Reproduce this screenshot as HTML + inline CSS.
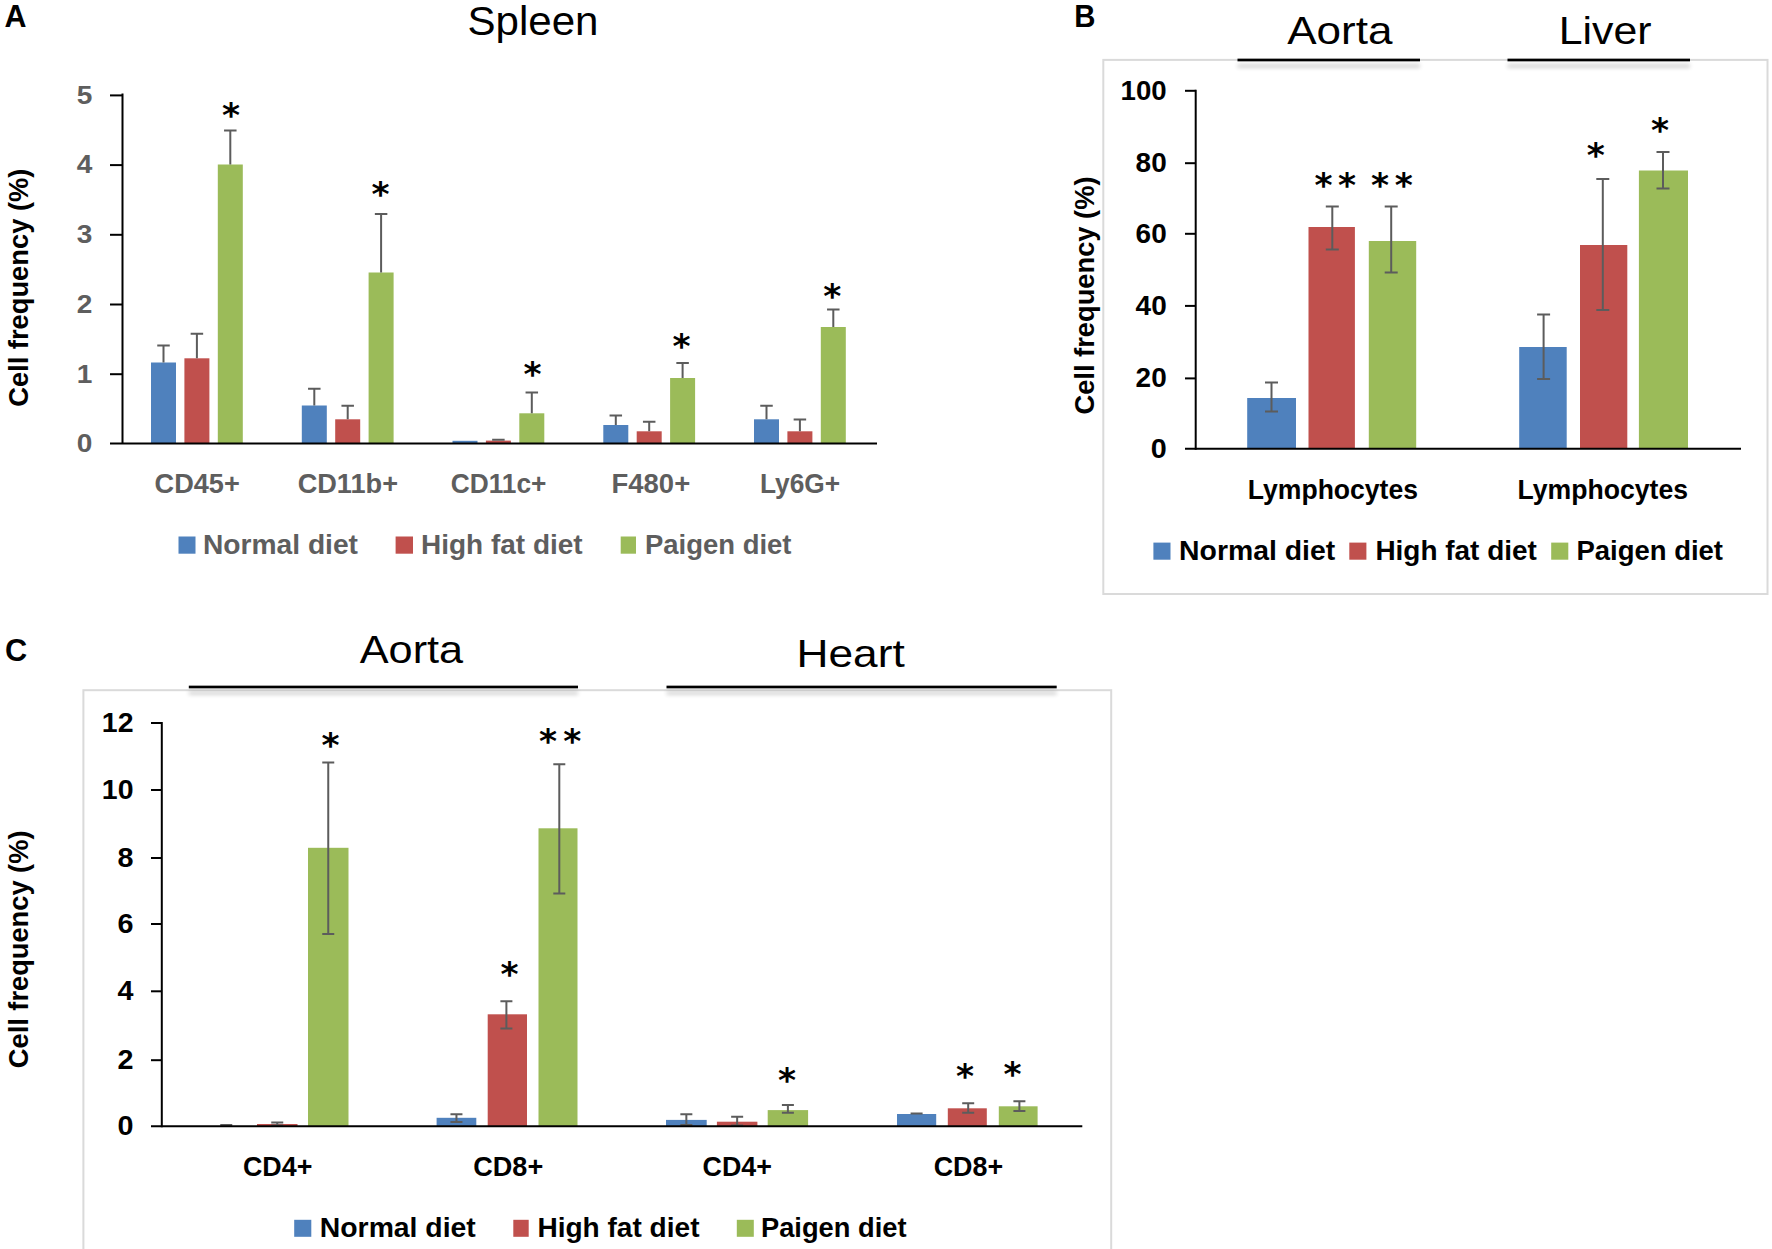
<!DOCTYPE html>
<html lang="en"><head><meta charset="utf-8"><title>Figure</title>
<style>
html,body{margin:0;padding:0;background:#fff}
svg{display:block}
text{font-family:"Liberation Sans",sans-serif}
text.b,text.h{font-weight:700}
text.st{font-family:"DejaVu Sans","Liberation Sans",sans-serif}
</style></head><body>
<svg width="1772" height="1249" viewBox="0 0 1772 1249">
<defs><filter id="sh" x="-5%" y="-400%" width="110%" height="1200%"><feGaussianBlur in="SourceAlpha" stdDeviation="2.3" result="b"/><feOffset in="b" dy="6.2" result="o"/><feComponentTransfer in="o" result="s"><feFuncA type="linear" slope="0.24"/></feComponentTransfer><feMerge><feMergeNode in="s"/><feMergeNode in="SourceGraphic"/></feMerge></filter></defs>
<rect width="1772" height="1249" fill="#fff"/>
<g id="panelA">
<text x="15.4" y="26.7" font-size="31.3" text-anchor="middle" textLength="22" lengthAdjust="spacingAndGlyphs" fill="#000" class="b">A</text>
<text x="533" y="35" font-size="41" text-anchor="middle" textLength="131" lengthAdjust="spacingAndGlyphs" fill="#000">Spleen</text>
<text transform="translate(27.7 287.7) rotate(-90)" x="0" y="0" font-size="27.3" text-anchor="middle" textLength="238.2" lengthAdjust="spacingAndGlyphs" fill="#000" class="b">Cell frequency (%)</text>
<rect x="151" y="362.5" width="25" height="80.5" fill="#4f81bd"/>
<path d="M157.25 345.5H169.75M163.5 345.5V362.5" stroke="#5c5c5c" stroke-width="2" fill="none"/>
<rect x="184.4" y="358.3" width="25" height="84.7" fill="#c0504d"/>
<path d="M190.65 333.7H203.15M196.9 333.7V358.3" stroke="#5c5c5c" stroke-width="2" fill="none"/>
<rect x="217.8" y="164.5" width="25" height="278.5" fill="#9bbb59"/>
<path d="M224.05 130.5H236.55M230.3 130.5V164.5" stroke="#5c5c5c" stroke-width="2" fill="none"/>
<rect x="301.8" y="405.5" width="25" height="37.5" fill="#4f81bd"/>
<path d="M308.05 388.7H320.55M314.3 388.7V405.5" stroke="#5c5c5c" stroke-width="2" fill="none"/>
<rect x="335.2" y="419.3" width="25" height="23.7" fill="#c0504d"/>
<path d="M341.45 405.7H353.95M347.7 405.7V419.3" stroke="#5c5c5c" stroke-width="2" fill="none"/>
<rect x="368.6" y="272.5" width="25" height="170.5" fill="#9bbb59"/>
<path d="M374.85 214H387.35M381.1 214V272.5" stroke="#5c5c5c" stroke-width="2" fill="none"/>
<rect x="452.5" y="440.8" width="25" height="2.2" fill="#4f81bd"/>
<rect x="485.9" y="440.6" width="25" height="2.4" fill="#c0504d"/>
<path d="M492.15 439.8H504.65M498.4 439.8V440.6" stroke="#5c5c5c" stroke-width="2" fill="none"/>
<rect x="519.3" y="413.3" width="25" height="29.7" fill="#9bbb59"/>
<path d="M525.55 392.6H538.05M531.8 392.6V413.3" stroke="#5c5c5c" stroke-width="2" fill="none"/>
<rect x="603.3" y="425" width="25" height="18" fill="#4f81bd"/>
<path d="M609.55 415.5H622.05M615.8 415.5V425" stroke="#5c5c5c" stroke-width="2" fill="none"/>
<rect x="636.7" y="431.3" width="25" height="11.7" fill="#c0504d"/>
<path d="M642.95 421.7H655.45M649.2 421.7V431.3" stroke="#5c5c5c" stroke-width="2" fill="none"/>
<rect x="670.1" y="378" width="25" height="65" fill="#9bbb59"/>
<path d="M676.35 363H688.85M682.6 363V378" stroke="#5c5c5c" stroke-width="2" fill="none"/>
<rect x="754" y="419.3" width="25" height="23.7" fill="#4f81bd"/>
<path d="M760.25 405.7H772.75M766.5 405.7V419.3" stroke="#5c5c5c" stroke-width="2" fill="none"/>
<rect x="787.4" y="431.3" width="25" height="11.7" fill="#c0504d"/>
<path d="M793.65 419.5H806.15M799.9 419.5V431.3" stroke="#5c5c5c" stroke-width="2" fill="none"/>
<rect x="820.8" y="327" width="25" height="116" fill="#9bbb59"/>
<path d="M827.05 309.5H839.55M833.3 309.5V327" stroke="#5c5c5c" stroke-width="2" fill="none"/>
<text class="st" x="231" y="126.7" font-size="34.5" font-weight="700" text-anchor="middle">*</text>
<text class="st" x="380.5" y="206.4" font-size="34.5" font-weight="700" text-anchor="middle">*</text>
<text class="st" x="532.5" y="385.7" font-size="34.5" font-weight="700" text-anchor="middle">*</text>
<text class="st" x="681.5" y="357.5" font-size="34.5" font-weight="700" text-anchor="middle">*</text>
<text class="st" x="832.3" y="307.7" font-size="34.5" font-weight="700" text-anchor="middle">*</text>
<line x1="122.5" y1="93.5" x2="122.5" y2="444" stroke="#000" stroke-width="2"/>
<line x1="110" y1="443.5" x2="877" y2="443.5" stroke="#000" stroke-width="2"/>
<line x1="110" y1="374.2" x2="122.5" y2="374.2" stroke="#000" stroke-width="2"/>
<line x1="110" y1="304.5" x2="122.5" y2="304.5" stroke="#000" stroke-width="2"/>
<line x1="110" y1="234.8" x2="122.5" y2="234.8" stroke="#000" stroke-width="2"/>
<line x1="110" y1="165.1" x2="122.5" y2="165.1" stroke="#000" stroke-width="2"/>
<line x1="110" y1="95.4" x2="122.5" y2="95.4" stroke="#000" stroke-width="2"/>
<text x="84.6" y="452.2" font-size="26.5" text-anchor="middle" textLength="15.6" lengthAdjust="spacingAndGlyphs" fill="#5e5e5e" class="b">0</text>
<text x="84.6" y="382.5" font-size="26.5" text-anchor="middle" textLength="15.6" lengthAdjust="spacingAndGlyphs" fill="#5e5e5e" class="b">1</text>
<text x="84.6" y="312.8" font-size="26.5" text-anchor="middle" textLength="15.6" lengthAdjust="spacingAndGlyphs" fill="#5e5e5e" class="b">2</text>
<text x="84.6" y="243.1" font-size="26.5" text-anchor="middle" textLength="15.6" lengthAdjust="spacingAndGlyphs" fill="#5e5e5e" class="b">3</text>
<text x="84.6" y="173.4" font-size="26.5" text-anchor="middle" textLength="15.6" lengthAdjust="spacingAndGlyphs" fill="#5e5e5e" class="b">4</text>
<text x="84.6" y="103.7" font-size="26.5" text-anchor="middle" textLength="15.6" lengthAdjust="spacingAndGlyphs" fill="#5e5e5e" class="b">5</text>
<text x="197.2" y="492.7" font-size="26.8" text-anchor="middle" textLength="85.2" lengthAdjust="spacingAndGlyphs" fill="#5e5e5e" class="b">CD45+</text>
<text x="347.85" y="492.7" font-size="26.8" text-anchor="middle" textLength="100.3" lengthAdjust="spacingAndGlyphs" fill="#5e5e5e" class="b">CD11b+</text>
<text x="498.6" y="492.7" font-size="26.8" text-anchor="middle" textLength="95.8" lengthAdjust="spacingAndGlyphs" fill="#5e5e5e" class="b">CD11c+</text>
<text x="650.85" y="492.7" font-size="26.8" text-anchor="middle" textLength="78.7" lengthAdjust="spacingAndGlyphs" fill="#5e5e5e" class="b">F480+</text>
<text x="800.1" y="492.7" font-size="26.8" text-anchor="middle" textLength="80.2" lengthAdjust="spacingAndGlyphs" fill="#5e5e5e" class="b">Ly6G+</text>
<rect x="178.5" y="536.5" width="17" height="17.2" fill="#4f81bd"/>
<rect x="395.6" y="536.5" width="17.4" height="17.2" fill="#c0504d"/>
<rect x="620.7" y="536.5" width="15.3" height="17.2" fill="#9bbb59"/>
<text x="280.5" y="553.7" font-size="26.8" text-anchor="middle" textLength="155" lengthAdjust="spacingAndGlyphs" fill="#5e5e5e" class="b">Normal diet</text>
<text x="501.85" y="553.7" font-size="26.8" text-anchor="middle" textLength="161.7" lengthAdjust="spacingAndGlyphs" fill="#5e5e5e" class="b">High fat diet</text>
<text x="718.25" y="553.7" font-size="26.8" text-anchor="middle" textLength="146.5" lengthAdjust="spacingAndGlyphs" fill="#5e5e5e" class="b">Paigen diet</text>
</g>
<g id="panelB">
<rect x="1103.3" y="59.9" width="664.2" height="534.1" fill="none" stroke="#dadada" stroke-width="2"/>
<text x="1084.8" y="26.7" font-size="31.3" text-anchor="middle" textLength="21.2" lengthAdjust="spacingAndGlyphs" fill="#000" class="b">B</text>
<text x="1339.85" y="44.4" font-size="39.5" text-anchor="middle" textLength="105.3" lengthAdjust="spacingAndGlyphs" fill="#000">Aorta</text>
<text x="1605.1" y="44.4" font-size="39.5" text-anchor="middle" textLength="92.8" lengthAdjust="spacingAndGlyphs" fill="#000">Liver</text>
<rect x="1237.5" y="58.65" width="182.5" height="2.7" fill="#000" filter="url(#sh)"/>
<rect x="1507.5" y="58.65" width="182.5" height="2.7" fill="#000" filter="url(#sh)"/>
<text transform="translate(1094.4 295.5) rotate(-90)" x="0" y="0" font-size="27.3" text-anchor="middle" textLength="238" lengthAdjust="spacingAndGlyphs" fill="#000" class="b">Cell frequency (%)</text>
<rect x="1247.2" y="398" width="48.8" height="50.5" fill="#4f81bd"/>
<path d="M1265 382.5H1278M1271.5 382.5V411.5M1265 411.5H1278" stroke="#5c5c5c" stroke-width="2" fill="none"/>
<rect x="1308.5" y="227" width="46.4" height="221.5" fill="#c0504d"/>
<path d="M1325.8 206.5H1338.8M1332.3 206.5V249.5M1325.8 249.5H1338.8" stroke="#5c5c5c" stroke-width="2" fill="none"/>
<rect x="1368.8" y="241" width="47.4" height="207.5" fill="#9bbb59"/>
<path d="M1384.7 206.5H1397.7M1391.2 206.5V272.5M1384.7 272.5H1397.7" stroke="#5c5c5c" stroke-width="2" fill="none"/>
<rect x="1519.2" y="347" width="47.5" height="101.5" fill="#4f81bd"/>
<path d="M1537.1 314.5H1550.1M1543.6 314.5V379M1537.1 379H1550.1" stroke="#5c5c5c" stroke-width="2" fill="none"/>
<rect x="1580" y="245" width="47.3" height="203.5" fill="#c0504d"/>
<path d="M1596.3 179H1609.3M1602.8 179V310M1596.3 310H1609.3" stroke="#5c5c5c" stroke-width="2" fill="none"/>
<rect x="1638.9" y="170.5" width="49.1" height="278" fill="#9bbb59"/>
<path d="M1656.5 152H1669.5M1663 152V188.5M1656.5 188.5H1669.5" stroke="#5c5c5c" stroke-width="2" fill="none"/>
<text class="st" x="1323.5" y="196.6" font-size="34.5" font-weight="700" text-anchor="middle">*</text>
<text class="st" x="1347" y="196.6" font-size="34.5" font-weight="700" text-anchor="middle">*</text>
<text class="st" x="1380" y="196.6" font-size="34.5" font-weight="700" text-anchor="middle">*</text>
<text class="st" x="1403.8" y="196.6" font-size="34.5" font-weight="700" text-anchor="middle">*</text>
<text class="st" x="1595.8" y="167.4" font-size="34.5" font-weight="700" text-anchor="middle">*</text>
<text class="st" x="1660" y="141.7" font-size="34.5" font-weight="700" text-anchor="middle">*</text>
<line x1="1195.7" y1="89.8" x2="1195.7" y2="449.8" stroke="#000" stroke-width="2"/>
<line x1="1185" y1="448.8" x2="1741" y2="448.8" stroke="#000" stroke-width="2"/>
<line x1="1185" y1="378.4" x2="1195.7" y2="378.4" stroke="#000" stroke-width="2"/>
<line x1="1185" y1="305.9" x2="1195.7" y2="305.9" stroke="#000" stroke-width="2"/>
<line x1="1185" y1="233.8" x2="1195.7" y2="233.8" stroke="#000" stroke-width="2"/>
<line x1="1185" y1="163.2" x2="1195.7" y2="163.2" stroke="#000" stroke-width="2"/>
<line x1="1185" y1="90.8" x2="1195.7" y2="90.8" stroke="#000" stroke-width="2"/>
<text x="1158.7" y="457.5" font-size="27.8" text-anchor="middle" textLength="16" lengthAdjust="spacingAndGlyphs" fill="#000" class="h">0</text>
<text x="1151.15" y="387.1" font-size="27.8" text-anchor="middle" textLength="31.1" lengthAdjust="spacingAndGlyphs" fill="#000" class="h">20</text>
<text x="1151.15" y="314.6" font-size="27.8" text-anchor="middle" textLength="31.1" lengthAdjust="spacingAndGlyphs" fill="#000" class="h">40</text>
<text x="1151.15" y="242.5" font-size="27.8" text-anchor="middle" textLength="31.1" lengthAdjust="spacingAndGlyphs" fill="#000" class="h">60</text>
<text x="1151.15" y="171.9" font-size="27.8" text-anchor="middle" textLength="31.1" lengthAdjust="spacingAndGlyphs" fill="#000" class="h">80</text>
<text x="1143.65" y="99.5" font-size="27.8" text-anchor="middle" textLength="46.1" lengthAdjust="spacingAndGlyphs" fill="#000" class="h">100</text>
<text x="1332.9" y="498.6" font-size="26.8" text-anchor="middle" textLength="170.2" lengthAdjust="spacingAndGlyphs" fill="#000" class="b">Lymphocytes</text>
<text x="1602.75" y="498.6" font-size="26.8" text-anchor="middle" textLength="170.5" lengthAdjust="spacingAndGlyphs" fill="#000" class="b">Lymphocytes</text>
<rect x="1153.4" y="542.6" width="17.1" height="17.1" fill="#4f81bd"/>
<rect x="1349.3" y="542.6" width="17.1" height="17.1" fill="#c0504d"/>
<rect x="1551.2" y="542.6" width="17.1" height="17.1" fill="#9bbb59"/>
<text x="1257.15" y="559.6" font-size="26.8" text-anchor="middle" textLength="156.1" lengthAdjust="spacingAndGlyphs" fill="#000" class="b">Normal diet</text>
<text x="1456.15" y="559.6" font-size="26.8" text-anchor="middle" textLength="161.5" lengthAdjust="spacingAndGlyphs" fill="#000" class="b">High fat diet</text>
<text x="1649.7" y="559.6" font-size="26.8" text-anchor="middle" textLength="146.6" lengthAdjust="spacingAndGlyphs" fill="#000" class="b">Paigen diet</text>
</g>
<g id="panelC">
<rect x="83.4" y="690.2" width="1027.8" height="600" fill="none" stroke="#dadada" stroke-width="2"/>
<text x="16.2" y="661.2" font-size="31.3" text-anchor="middle" textLength="22.2" lengthAdjust="spacingAndGlyphs" fill="#000" class="b">C</text>
<text x="411.45" y="663.3" font-size="39.5" text-anchor="middle" textLength="103.5" lengthAdjust="spacingAndGlyphs" fill="#000">Aorta</text>
<text x="850.6" y="666.9" font-size="39.5" text-anchor="middle" textLength="108.2" lengthAdjust="spacingAndGlyphs" fill="#000">Heart</text>
<rect x="188.8" y="685.65" width="389.2" height="2.7" fill="#000" filter="url(#sh)"/>
<rect x="666.5" y="685.65" width="390.2" height="2.7" fill="#000" filter="url(#sh)"/>
<text transform="translate(27.7 949.35) rotate(-90)" x="0" y="0" font-size="27.3" text-anchor="middle" textLength="237.7" lengthAdjust="spacingAndGlyphs" fill="#000" class="b">Cell frequency (%)</text>
<path d="M220.25 1125H232.25M226.25 1125V1125M220.25 1125H232.25" stroke="#5c5c5c" stroke-width="2" fill="none"/>
<rect x="257" y="1124" width="40.5" height="2" fill="#c0504d"/>
<path d="M271.25 1122.4H283.25M277.25 1122.4V1125.5M271.25 1125.5H283.25" stroke="#5c5c5c" stroke-width="2" fill="none"/>
<rect x="308" y="847.8" width="40.5" height="278.2" fill="#9bbb59"/>
<path d="M322.25 762.4H334.25M328.25 762.4V934M322.25 934H334.25" stroke="#5c5c5c" stroke-width="2" fill="none"/>
<rect x="436.6" y="1117.8" width="39.7" height="8.2" fill="#4f81bd"/>
<path d="M450.45 1114.2H462.45M456.45 1114.2V1122M450.45 1122H462.45" stroke="#5c5c5c" stroke-width="2" fill="none"/>
<rect x="487.7" y="1014.3" width="39.3" height="111.7" fill="#c0504d"/>
<path d="M500.4 1001.3H512.4M506.4 1001.3V1028.4M500.4 1028.4H512.4" stroke="#5c5c5c" stroke-width="2" fill="none"/>
<rect x="538.5" y="828.3" width="39" height="297.7" fill="#9bbb59"/>
<path d="M553.3 764.2H565.3M559.3 764.2V893.6M553.3 893.6H565.3" stroke="#5c5c5c" stroke-width="2" fill="none"/>
<rect x="666" y="1119.9" width="40.7" height="6.1" fill="#4f81bd"/>
<path d="M680.35 1114.2H692.35M686.35 1114.2V1125M680.35 1125H692.35" stroke="#5c5c5c" stroke-width="2" fill="none"/>
<rect x="716.9" y="1121.7" width="40.5" height="4.3" fill="#c0504d"/>
<path d="M731.15 1116.8H743.15M737.15 1116.8V1125.5M731.15 1125.5H743.15" stroke="#5c5c5c" stroke-width="2" fill="none"/>
<rect x="767.7" y="1110.1" width="40.4" height="15.9" fill="#9bbb59"/>
<path d="M781.9 1105H793.9M787.9 1105V1112.7M781.9 1112.7H793.9" stroke="#5c5c5c" stroke-width="2" fill="none"/>
<rect x="897" y="1114" width="39.2" height="12" fill="#4f81bd"/>
<path d="M910.6 1113.5H922.6M916.6 1113.5V1113.5M910.6 1113.5H922.6" stroke="#5c5c5c" stroke-width="2" fill="none"/>
<rect x="947.8" y="1108.3" width="39" height="17.7" fill="#c0504d"/>
<path d="M962.2 1103.2H974.2M968.2 1103.2V1112.7M962.2 1112.7H974.2" stroke="#5c5c5c" stroke-width="2" fill="none"/>
<rect x="998.8" y="1106.3" width="38.8" height="19.7" fill="#9bbb59"/>
<path d="M1013.4 1101.2H1025.4M1019.4 1101.2V1110.9M1013.4 1110.9H1025.4" stroke="#5c5c5c" stroke-width="2" fill="none"/>
<text class="st" x="330.5" y="757.2" font-size="34.5" font-weight="700" text-anchor="middle">*</text>
<text class="st" x="509.4" y="986.2" font-size="34.5" font-weight="700" text-anchor="middle">*</text>
<text class="st" x="548" y="753.4" font-size="34.5" font-weight="700" text-anchor="middle">*</text>
<text class="st" x="572.2" y="753.4" font-size="34.5" font-weight="700" text-anchor="middle">*</text>
<text class="st" x="786.9" y="1091.5" font-size="34.5" font-weight="700" text-anchor="middle">*</text>
<text class="st" x="965" y="1087.7" font-size="34.5" font-weight="700" text-anchor="middle">*</text>
<text class="st" x="1012.4" y="1085.6" font-size="34.5" font-weight="700" text-anchor="middle">*</text>
<line x1="161.8" y1="722" x2="161.8" y2="1127.3" stroke="#000" stroke-width="2"/>
<line x1="151" y1="1126.3" x2="1082.3" y2="1126.3" stroke="#000" stroke-width="2"/>
<line x1="151" y1="1060.2" x2="161.8" y2="1060.2" stroke="#000" stroke-width="2"/>
<line x1="151" y1="991.3" x2="161.8" y2="991.3" stroke="#000" stroke-width="2"/>
<line x1="151" y1="924" x2="161.8" y2="924" stroke="#000" stroke-width="2"/>
<line x1="151" y1="858" x2="161.8" y2="858" stroke="#000" stroke-width="2"/>
<line x1="151" y1="790" x2="161.8" y2="790" stroke="#000" stroke-width="2"/>
<line x1="151" y1="723" x2="161.8" y2="723" stroke="#000" stroke-width="2"/>
<text x="125.5" y="1135" font-size="27" text-anchor="middle" textLength="16" lengthAdjust="spacingAndGlyphs" fill="#000" class="h">0</text>
<text x="125.5" y="1068.9" font-size="27" text-anchor="middle" textLength="16" lengthAdjust="spacingAndGlyphs" fill="#000" class="h">2</text>
<text x="125.5" y="1000" font-size="27" text-anchor="middle" textLength="16" lengthAdjust="spacingAndGlyphs" fill="#000" class="h">4</text>
<text x="125.5" y="932.7" font-size="27" text-anchor="middle" textLength="16" lengthAdjust="spacingAndGlyphs" fill="#000" class="h">6</text>
<text x="125.5" y="866.7" font-size="27" text-anchor="middle" textLength="16" lengthAdjust="spacingAndGlyphs" fill="#000" class="h">8</text>
<text x="117.65" y="798.7" font-size="27" text-anchor="middle" textLength="31.7" lengthAdjust="spacingAndGlyphs" fill="#000" class="h">10</text>
<text x="117.65" y="731.7" font-size="27" text-anchor="middle" textLength="31.7" lengthAdjust="spacingAndGlyphs" fill="#000" class="h">12</text>
<text x="277.65" y="1176.2" font-size="26.8" text-anchor="middle" textLength="69.3" lengthAdjust="spacingAndGlyphs" fill="#000" class="b">CD4+</text>
<text x="508.25" y="1176.2" font-size="26.8" text-anchor="middle" textLength="69.9" lengthAdjust="spacingAndGlyphs" fill="#000" class="b">CD8+</text>
<text x="737.3" y="1176.2" font-size="26.8" text-anchor="middle" textLength="69.4" lengthAdjust="spacingAndGlyphs" fill="#000" class="b">CD4+</text>
<text x="968.4" y="1176.2" font-size="26.8" text-anchor="middle" textLength="69.4" lengthAdjust="spacingAndGlyphs" fill="#000" class="b">CD8+</text>
<rect x="294.2" y="1219.8" width="17.1" height="17" fill="#4f81bd"/>
<rect x="513.3" y="1219.8" width="15.4" height="17" fill="#c0504d"/>
<rect x="736.8" y="1219.8" width="17" height="17" fill="#9bbb59"/>
<text x="397.8" y="1236.5" font-size="26.8" text-anchor="middle" textLength="156" lengthAdjust="spacingAndGlyphs" fill="#000" class="b">Normal diet</text>
<text x="618.45" y="1236.5" font-size="26.8" text-anchor="middle" textLength="162.1" lengthAdjust="spacingAndGlyphs" fill="#000" class="b">High fat diet</text>
<text x="833.75" y="1236.5" font-size="26.8" text-anchor="middle" textLength="145.5" lengthAdjust="spacingAndGlyphs" fill="#000" class="b">Paigen diet</text>
</g>
</svg>
</body></html>
